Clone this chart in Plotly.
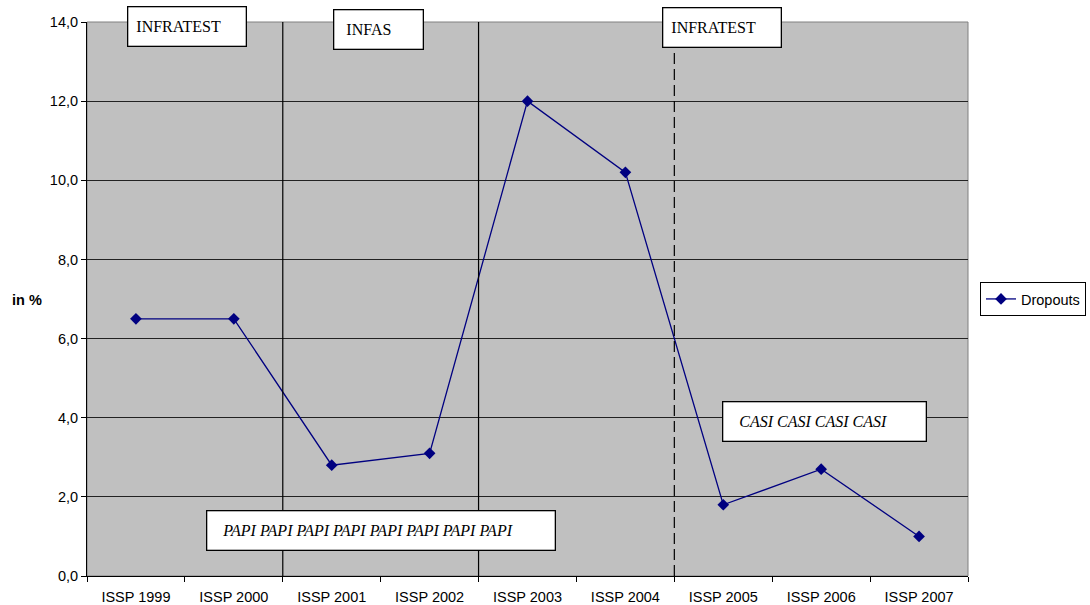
import plotly.graph_objects as go

categories = ["ISSP 1999", "ISSP 2000", "ISSP 2001", "ISSP 2002", "ISSP 2003",
              "ISSP 2004", "ISSP 2005", "ISSP 2006", "ISSP 2007"]
dropouts = [6.5, 6.5, 2.8, 3.1, 12.0, 10.2, 1.8, 2.7, 1.0]
y_ticks = [0, 2, 4, 6, 8, 10, 12, 14]

L, R, T, B = 87, 122, 22, 29
W, H = 1090, 605
PW, PH = W - L - R, H - T - B

def px(x):
    return (x - L) / PW

def py(y):
    return (H - B - y) / PH

fig = go.Figure()
fig.add_trace(go.Scatter(
    x=categories, y=dropouts, mode="lines+markers", name="Dropouts",
    line=dict(color="#000080", width=1.3),
    marker=dict(symbol="diamond", size=9, color="#000080"),
))

# vertical separators
for xv, dash, y1 in [(1.5, "solid", 14), (3.5, "solid", 14), (5.5, "11px,5px", 13.3)]:
    fig.add_shape(type="line", xref="x", yref="y", x0=xv, x1=xv, y0=0, y1=y1,
                  line=dict(color="black", width=1.2, dash=dash), layer="above")

# plot border (gray)
fig.add_shape(type="rect", xref="paper", yref="paper", x0=0, x1=1, y0=0, y1=1,
              line=dict(color="#808080", width=1), layer="below")

# text, box left, right, top, bottom, italic, left padding (nbsp count)
boxes = [
    ("INFRATEST", 127, 247, 6, 47, False, 2),
    ("INFAS", 333, 424, 9, 50, False, 3),
    ("INFRATEST", 662, 782, 7, 48, False, 2),
    ("PAPI PAPI PAPI PAPI PAPI PAPI PAPI PAPI", 206, 556, 510, 551, True, 4),
    ("CASI CASI CASI CASI", 722, 927, 401, 442, True, 4),
]
for text, x0, x1, y0, y1, ital, pad in boxes:
    t = f"<i>{text}</i>" if ital else text
    t = "&nbsp;" * pad + t
    fig.add_annotation(
        xref="paper", yref="paper", x=px((x0 + x1) / 2), y=py((y0 + y1) / 2),
        xanchor="center", yanchor="middle", text=t, showarrow=False, align="left",
        font=dict(family="Liberation Serif, Times New Roman, serif", size=16, color="black"),
        bgcolor="white", bordercolor="black", borderwidth=1.3, borderpad=0,
        width=x1 - x0 - 3, height=y1 - y0 - 3,
    )

fig.add_annotation(
    xref="paper", yref="paper", x=px(26), y=py(300), text="<b>in %</b>",
    showarrow=False, xshift=-16,
    font=dict(family="Arial, Liberation Sans, sans-serif", size=14.5, color="black"),
)

fig.update_layout(
    width=W, height=H,
    margin=dict(l=L, r=R, t=T, b=B, autoexpand=False),
    paper_bgcolor="white", plot_bgcolor="#C0C0C0",
    separators=",.",
    font=dict(family="Arial, Liberation Sans, sans-serif", size=14.5, color="black"),
    showlegend=True,
    legend=dict(x=px(980), y=0.5, xanchor="left", yanchor="middle",
                bordercolor="black", borderwidth=1, bgcolor="white",
                font=dict(size=14.5), itemwidth=30, tracegroupgap=0),
    xaxis=dict(type="category", tickson="boundaries", ticks="outside", ticklen=5,
               tickcolor="black", showline=True, linecolor="black", linewidth=1,
               showgrid=False, range=[-0.5, 8.5], automargin=False,
               ticklabelstandoff=8),
    yaxis=dict(range=[0, 14], tickvals=y_ticks, tickformat=".1f", ticks="outside",
               ticklen=5, tickcolor="black", showline=True, linecolor="black",
               linewidth=1, showgrid=True, gridcolor="#222222", gridwidth=1,
               zeroline=False, automargin=False),
)

fig.write_html("out.html", config={"displayModeBar": False},
               post_script="document.body.style.margin='0';")
